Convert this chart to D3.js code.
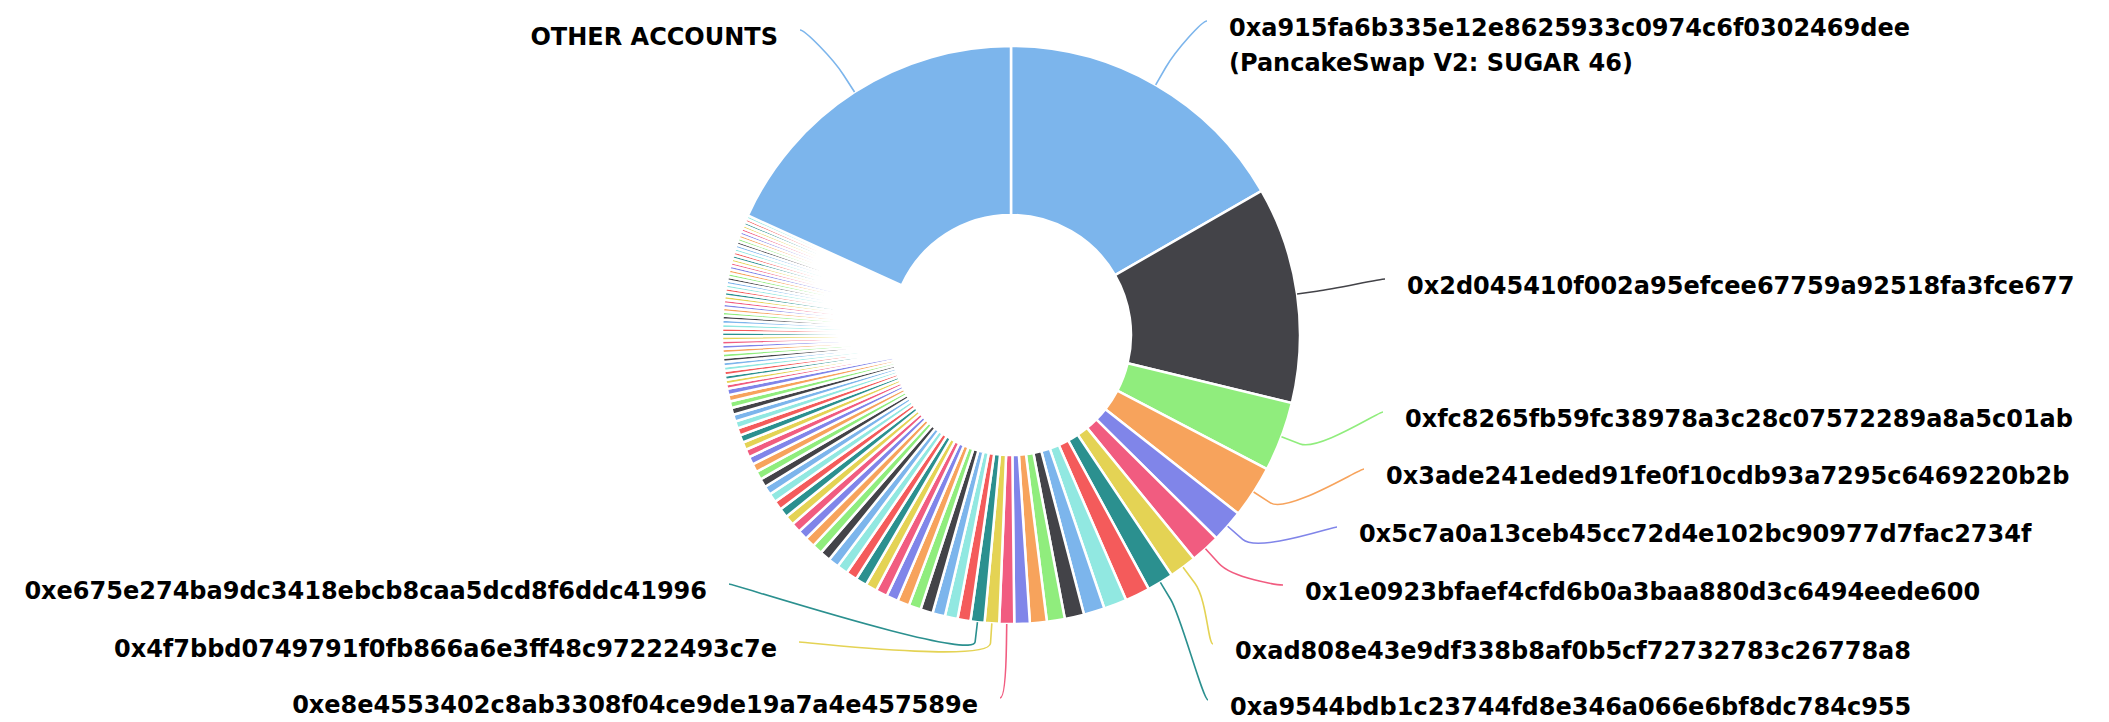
<!DOCTYPE html>
<meta charset="utf-8">
<html lang="en">
<head>
<style>
  body { margin: 0; background: #ffffff; }
  .slice { stroke: #ffffff; stroke-width: 2.5; }
  .connector { fill: none; stroke-width: 1.6; }
  .lbl {
    font-family: "DejaVu Sans", Verdana, sans-serif;
    font-weight: bold;
    font-size: 24px;
    fill: #000000;
  }
</style>
</head>
<body>
<div id="chart"></div>
<script src="https://d3js.org/d3.v7.min.js"></script>
<script type="text/javascript">
// shares of supply in percent, top 100 holders biggest first
var topShares = [16.67, 12.08, 3.89, 2.92, 1.81, 1.67, 1.53, 1.47, 1.39, 1.28,
                 1.17, 1.08, 1.00, 0.94, 0.86, 0.83, 0.81, 0.78];
var midShares = [0.72, 0.71, 0.70, 0.69, 0.68, 0.67, 0.66, 0.65, 0.64, 0.63,
                 0.62, 0.61, 0.60, 0.59, 0.57, 0.56, 0.55, 0.54, 0.53, 0.52,
                 0.51, 0.50, 0.49, 0.48, 0.47, 0.46, 0.45, 0.44, 0.43, 0.42,
                 0.41, 0.40, 0.39, 0.38, 0.37, 0.36, 0.35];
var tailShares = [0.25, 0.25, 0.25, 0.25, 0.25, 0.24, 0.24, 0.24, 0.24, 0.24,
                  0.23, 0.23, 0.23, 0.23, 0.23, 0.23, 0.22, 0.22, 0.22, 0.22,
                  0.22, 0.22, 0.22, 0.21, 0.21, 0.21, 0.21, 0.21, 0.21, 0.21,
                  0.20, 0.20, 0.20, 0.20, 0.20, 0.20, 0.20, 0.19, 0.19, 0.19,
                  0.19, 0.19, 0.19, 0.19, 0.19];
var otherShare = 18.19;

// which slices carry a label (index into the slice list) and their text
var labelIndex = [0, 1, 2, 3, 4, 5, 6, 7, 15, 16, 17, 100];
var labelText = [
  ["0xa915fa6b335e12e8625933c0974c6f0302469dee", "(PancakeSwap V2: SUGAR 46)"],
  ["0x2d045410f002a95efcee67759a92518fa3fce677"],
  ["0xfc8265fb59fc38978a3c28c07572289a8a5c01ab"],
  ["0x3ade241eded91fe0f10cdb93a7295c6469220b2b"],
  ["0x5c7a0a13ceb45cc72d4e102bc90977d7fac2734f"],
  ["0x1e0923bfaef4cfd6b0a3baa880d3c6494eede600"],
  ["0xad808e43e9df338b8af0b5cf72732783c26778a8"],
  ["0xa9544bdb1c23744fd8e346a066e6bf8dc784c955"],
  ["0xe8e4553402c8ab3308f04ce9de19a7a4e457589e"],
  ["0x4f7bbd0749791f0fb866a6e3ff48c97222493c7e"],
  ["0xe675e274ba9dc3418ebcb8caa5dcd8f6ddc41996"],
  ["OTHER ACCOUNTS"]
];

var palette = ["#7cb5ec", "#434348", "#90ed7d", "#f7a35c", "#8085e9",
               "#f15c80", "#e4d354", "#2b908f", "#f45b5b", "#91e8e1"];

// layout
var width = 2109, height = 722;
var cx = 1011, cy = 335, rOut = 289, rIn = 120;
// label anchor points: x of text edge, y of text middle, side
var labelPos = [
  [1229, 27, "start"], [1407, 285, "start"], [1405, 418, "start"],
  [1386, 475, "start"], [1359, 533, "start"], [1305, 591, "start"],
  [1235, 650, "start"], [1230, 706, "start"],
  [978, 704, "end"], [777, 648, "end"], [707, 590, "end"], [778, 36, "end"]
];

var shares = topShares.concat(midShares, tailShares, [otherShare]);

var svg = d3.select("#chart").append("svg")
    .attr("width", width)
    .attr("height", height);

var g = svg.append("g").attr("transform", "translate(" + cx + "," + cy + ")");

var pie = d3.pie().sort(null).value(function (d) { return d; });
var arcs = pie(shares);
var arc = d3.arc().innerRadius(rIn).outerRadius(rOut);

g.selectAll("path.slice")
  .data(arcs)
  .enter()
  .append("path")
    .attr("class", "slice")
    .attr("d", arc)
    .attr("fill", function (d, i) { return palette[i % palette.length]; });

function polar(a, r) {
  return [cx + r * Math.sin(a), cy - r * Math.cos(a)];
}

// connectors + labels
labelIndex.forEach(function (idx, k) {
  var a = arcs[idx];
  var mid = (a.startAngle + a.endAngle) / 2;
  var touch = polar(mid, rOut);
  var brk = polar(mid, rOut + 20);
  var p = labelPos[k];
  var left = p[2] === "end";
  var lx = left ? p[0] + 22 : p[0] - 22;
  var ly = p[1] - 6;
  var path = d3.path();
  path.moveTo(lx, ly);
  path.bezierCurveTo(lx + (left ? 5 : -5), ly,
                     2 * brk[0] - touch[0], 2 * brk[1] - touch[1],
                     brk[0], brk[1]);
  path.lineTo(touch[0], touch[1]);
  svg.append("path")
    .attr("class", "connector")
    .attr("d", path.toString())
    .attr("stroke", palette[idx % palette.length]);

  labelText[k].forEach(function (line, j) {
    svg.append("text")
      .attr("class", "lbl")
      .attr("x", p[0])
      .attr("y", p[1] + j * 35)
      .attr("dy", "0.36em")
      .attr("text-anchor", p[2])
      .text(line);
  });
});
</script>
</body>
</html>
